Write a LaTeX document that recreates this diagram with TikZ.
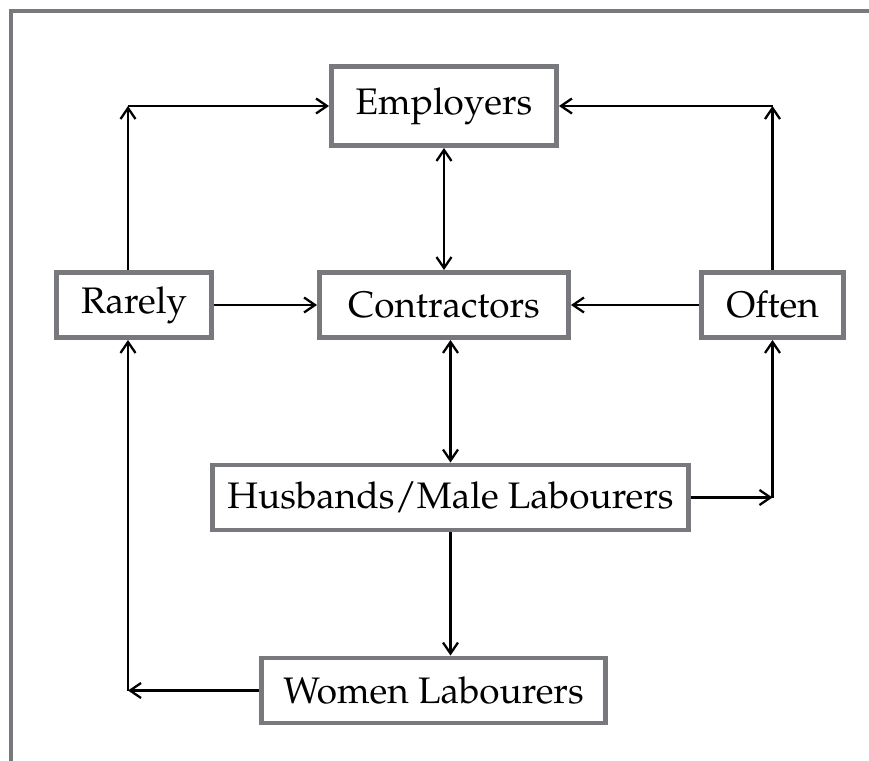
\documentclass[tikz,border=0pt]{standalone}
\usepackage[T1]{fontenc}
\usepackage{mathpazo}
\usetikzlibrary{arrows.meta}
\usetikzlibrary{calc}
\definecolor{boxgray}{RGB}{120,121,125}

\begin{document}
\begin{tikzpicture}[line width=1.3pt,>={Straight Barb[length=2.2mm,width=3mm]},
	box/.style={draw=boxgray,line width=2.8pt,shape=rectangle,minimum height=1.3cm,
		font=\fontsize{21}{25}\selectfont}]
			\useasboundingbox (0,0) rectangle (17.38,-15.22);
			\draw[boxgray,line width=2.8pt] (0.22,-15.22) -- (0.22,-0.22) -- (17.38,-0.22);
			\node [box,minimum width=4.5cm,minimum height=1.58cm] (Employers) at (8.88,-2.12) {Employers};
			\node [box,minimum width=4.98cm] (Contractors) at (8.88,-6.1) {Contractors};
			\node [box,minimum width=3.1cm] (Rarely) at (2.68,-6.1) {Rarely};
			\node [box,minimum width=2.84cm] (Often) at (15.45,-6.1) {Often};
			\node [box,minimum width=9.52cm] (Husbands) at (9.01,-9.95) {Husbands/Male Labourers};
			\node [box,minimum width=6.88cm] (Women) at (8.67,-13.81) {Women Labourers};
			\coordinate (c1) at (2.56,-2.12);
			\coordinate (c2) at (Often.north |- Employers.west);
			\coordinate (c3) at (Often.south |- Husbands.east);
			\coordinate (c4) at (2.56,-13.81);
			\draw[->] (c1 |- Rarely.north) -- (c1);
			\draw[->] (c1) -- (Employers.west);
			\draw[->] (Often.north) -- (c2);
			\draw[->] (c2) -- (Employers.east);
			\draw[<->] (Employers) -- (Contractors);
			\draw[->] (Rarely) -- (Contractors);
			\draw[->] (Often) -- (Contractors);
			\draw[<->] (Contractors.south -| Husbands.north) -- (Husbands.north);
			\draw[->] (Husbands.east) -- (c3);
			\draw[->] (c3) -- (Often.south);
			\draw[->] (Husbands.south) -- (Women.north -| Husbands.south);
			\draw[->] (Women.west) -- (c4);
			\draw[->] (c4) -- (c4 |- Rarely.south);
		\end{tikzpicture}
\end{document}
